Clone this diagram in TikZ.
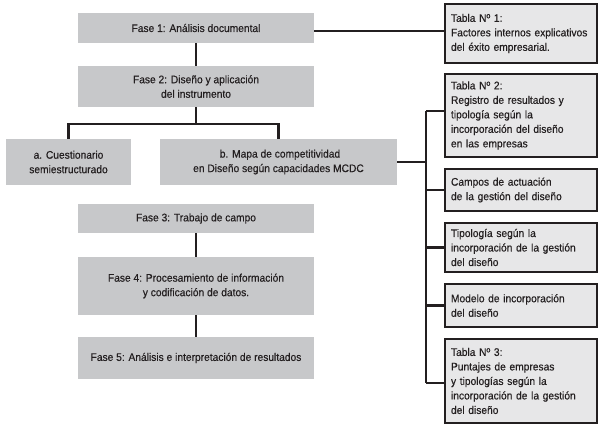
\documentclass[tikz,border=0pt]{standalone}
\usepackage{fontspec}
\setmainfont{Liberation Sans}[FakeStretch=0.93, FakeBold=0.4]
\usepackage{tikz}

\definecolor{fasegray}{RGB}{199,200,202}
\definecolor{tablagray}{RGB}{231,231,232}
\definecolor{ink}{RGB}{35,31,32}

\begin{document}
\begin{tikzpicture}[x=1pt, y=-1pt,
  every node/.style={font=\fontsize{11}{14.5}\selectfont, text=ink},
  fase/.style={fill=fasegray, minimum width=236pt, align=center, inner sep=2pt},
  tabla/.style={draw=ink, line width=2.4pt, fill=tablagray, minimum width=152pt,
    text width=140pt, align=left, inner xsep=6pt, inner ysep=2pt},
  link/.style={draw=ink, line width=2.4pt}]
\useasboundingbox (0,0) rectangle (602,427);
% fases
\node[fase, minimum height=30pt] (fase1) at (196,28) {Fase 1: Análisis documental};
\node[fase, minimum height=41pt] (fase2) at (196,86.5) {Fase 2: Diseño y aplicación\\del instrumento};
\node[fase, minimum width=125pt, minimum height=46pt] (cuest) at (68.5,162) {a. Cuestionario\\semiestructurado};
\node[fase, minimum width=237pt, minimum height=46pt] (mapa) at (278.5,162) {\hspace*{3pt}b. Mapa de competitividad\\en Diseño según capacidades MCDC};
\node[fase, minimum height=29pt] (fase3) at (196,218.5) {Fase 3: Trabajo de campo};
\node[fase, minimum height=58pt] (fase4) at (196,286) {Fase 4: Procesamiento de información\\y codificación de datos.};
\node[fase, minimum height=42pt] (fase5) at (196,358) {Fase 5: Análisis e interpretación de resultados};
% tablas
\node[tabla, minimum height=58.6pt] (tab1) at (521,33.5) {Tabla Nº 1:\\Factores internos explicativos\\del éxito empresarial.};
\node[tabla, minimum height=82.6pt] (tab2) at (521,115.5) {Tabla Nº 2:\\Registro de resultados y\\tipología según la\\incorporación del diseño\\en las empresas};
\node[tabla, minimum height=41.6pt] (campos) at (521,190) {Campos de actuación\\de la gestión del diseño};
\node[tabla, minimum height=48.6pt] (tipo) at (521,247.5) {Tipología según la\\incorporación de la gestión\\del diseño};
\node[tabla, minimum height=42.6pt] (modelo) at (521,305.5) {Modelo de incorporación\\del diseño};
\node[tabla, minimum height=83.6pt] (tab3) at (521,381) {Tabla Nº 3:\\Puntajes de empresas\\y tipologías según la\\incorporación de la gestión\\del diseño};
% conectores
\draw[link] ([yshift=-3pt]fase1.east) -- ([yshift=-3pt]tab1.west |- fase1.east);
\draw[link] (fase1) -- (fase2);
\draw[link] (fase2.south) -- ++(0,17) -| (cuest.north);
\draw[link] (fase2.south) -- ++(0,17) -| (mapa.north);
\draw[link] (fase3) -- (fase4);
\draw[link] (fase4) -- (fase5);
\coordinate (bustop) at (426,111);
\coordinate (busbot) at (426,383);
\draw[link] (bustop) -- (busbot);
\draw[link] (mapa.east) -- (mapa.east -| bustop);
\draw[link] (bustop) -- (bustop -| tab2.west);
\draw[link] (campos.west) -- (campos.west -| bustop);
\draw[link] (tipo.west) -- (tipo.west -| bustop);
\draw[link] (modelo.west) -- (modelo.west -| bustop);
\draw[link] (busbot) -- (busbot -| tab3.west);
\end{tikzpicture}
\end{document}
